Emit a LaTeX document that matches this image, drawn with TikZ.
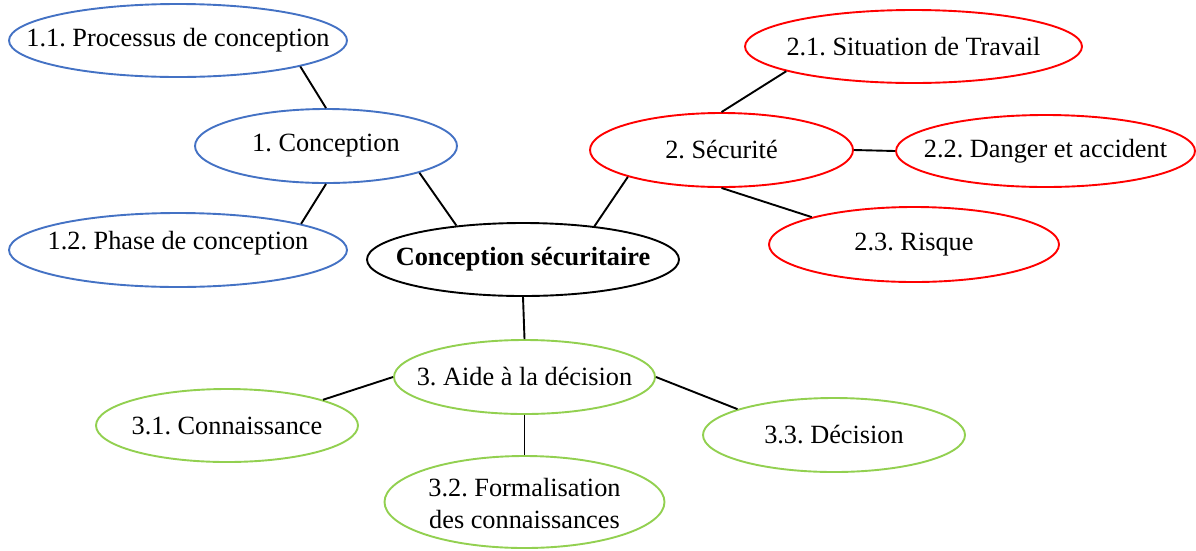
\documentclass[tikz,border=0pt]{standalone}
\usepackage{fontspec}
\setmainfont{Liberation Serif}
\usetikzlibrary{shapes.geometric}
\definecolor{bubbleblue}{HTML}{4472C4}
\definecolor{bubblered}{HTML}{FF0000}
\definecolor{bubblegreen}{HTML}{92D050}
% zero-width text box so the ellipse keeps its given size
\newcommand{\zwtext}[1]{\makebox[0pt]{#1}}
% text set at a fixed offset from the ellipse centre
\newcommand{\offtext}[2]{\raisebox{#1}[0pt][0pt]{\zwtext{#2}}}
\frenchspacing
\begin{document}
\begin{tikzpicture}[x=1pt,y=-1pt,
  bubble/.style={ellipse, draw, line width=1.9pt, inner sep=0pt,
    font=\fontsize{26.3}{32}\selectfont},
  bluebub/.style={bubble, draw=bubbleblue},
  redbub/.style={bubble, draw=bubblered},
  greenbub/.style={bubble, draw=bubblegreen},
  link/.style={line width=1.9pt, black}]
\useasboundingbox (0,0) rectangle (1196,550);

% centre
\node[bubble, draw=black, minimum width=312pt, minimum height=73pt,
      font=\fontsize{26.3}{32}\selectfont\bfseries] (root) at (523,259.5) {\zwtext{Conception sécuritaire}};

% branch 1
\node[bluebub, minimum width=262pt, minimum height=74pt] (c1) at (326,146) {\zwtext{1. Conception}};
\node[bluebub, minimum width=338pt, minimum height=73pt] (c11) at (178,40.5) {\zwtext{1.1. Processus de conception}};
\node[bluebub, minimum width=338pt, minimum height=74pt] (c12) at (178,250) {\offtext{1pt}{1.2. Phase de conception}};

% branch 2
\node[redbub, minimum width=263pt, minimum height=74pt] (s2) at (721.5,150) {\zwtext{2. Sécurité}};
\node[redbub, minimum width=337pt, minimum height=73pt] (s21) at (913.5,46.5) {\zwtext{2.1. Situation de Travail}};
\node[redbub, minimum width=299pt, minimum height=72pt] (s22) at (1045.5,151) {\zwtext{2.2. Danger et accident}};
\node[redbub, minimum width=290pt, minimum height=75pt] (s23) at (914,244.5) {\zwtext{2.3. Risque}};

% branch 3
\node[greenbub, minimum width=261pt, minimum height=74pt] (a3) at (524.5,377) {\zwtext{3. Aide à la décision}};
\node[greenbub, minimum width=262pt, minimum height=73pt] (a31) at (227,425.5) {\zwtext{3.1. Connaissance}};
\node[greenbub, minimum width=280pt, minimum height=92pt] (a32) at (524.5,502)
  {\offtext{-10pt}{\begin{tabular}{@{}c@{}}3.2. Formalisation\\des connaissances\end{tabular}}};
\node[greenbub, minimum width=262pt, minimum height=74pt] (a33) at (834,435) {\zwtext{3.3. Décision}};

% connectors
\draw[link] (c11.-12.5) -- (c1.north);
\draw[link] (c1.south) -- (c12.12.7);
\draw[link] (c1.-16.4) -- (root.153.4);
\draw[link] (root.25.8) -- (s2.196.7);
\draw[link] (s2.north) -- (s21.191.9);
\draw[link] (s2.east) -- (s22.west);
\draw[link] (s2.south) -- (s23.165.3);
\draw[link] (root.south) -- (a3.north);
\draw[link] (a3.west) -- (a31.15.9);
\draw[link] (a3.south) -- (a32.north);
\draw[link] (a3.east) -- (a33.165);
\end{tikzpicture}
\end{document}
